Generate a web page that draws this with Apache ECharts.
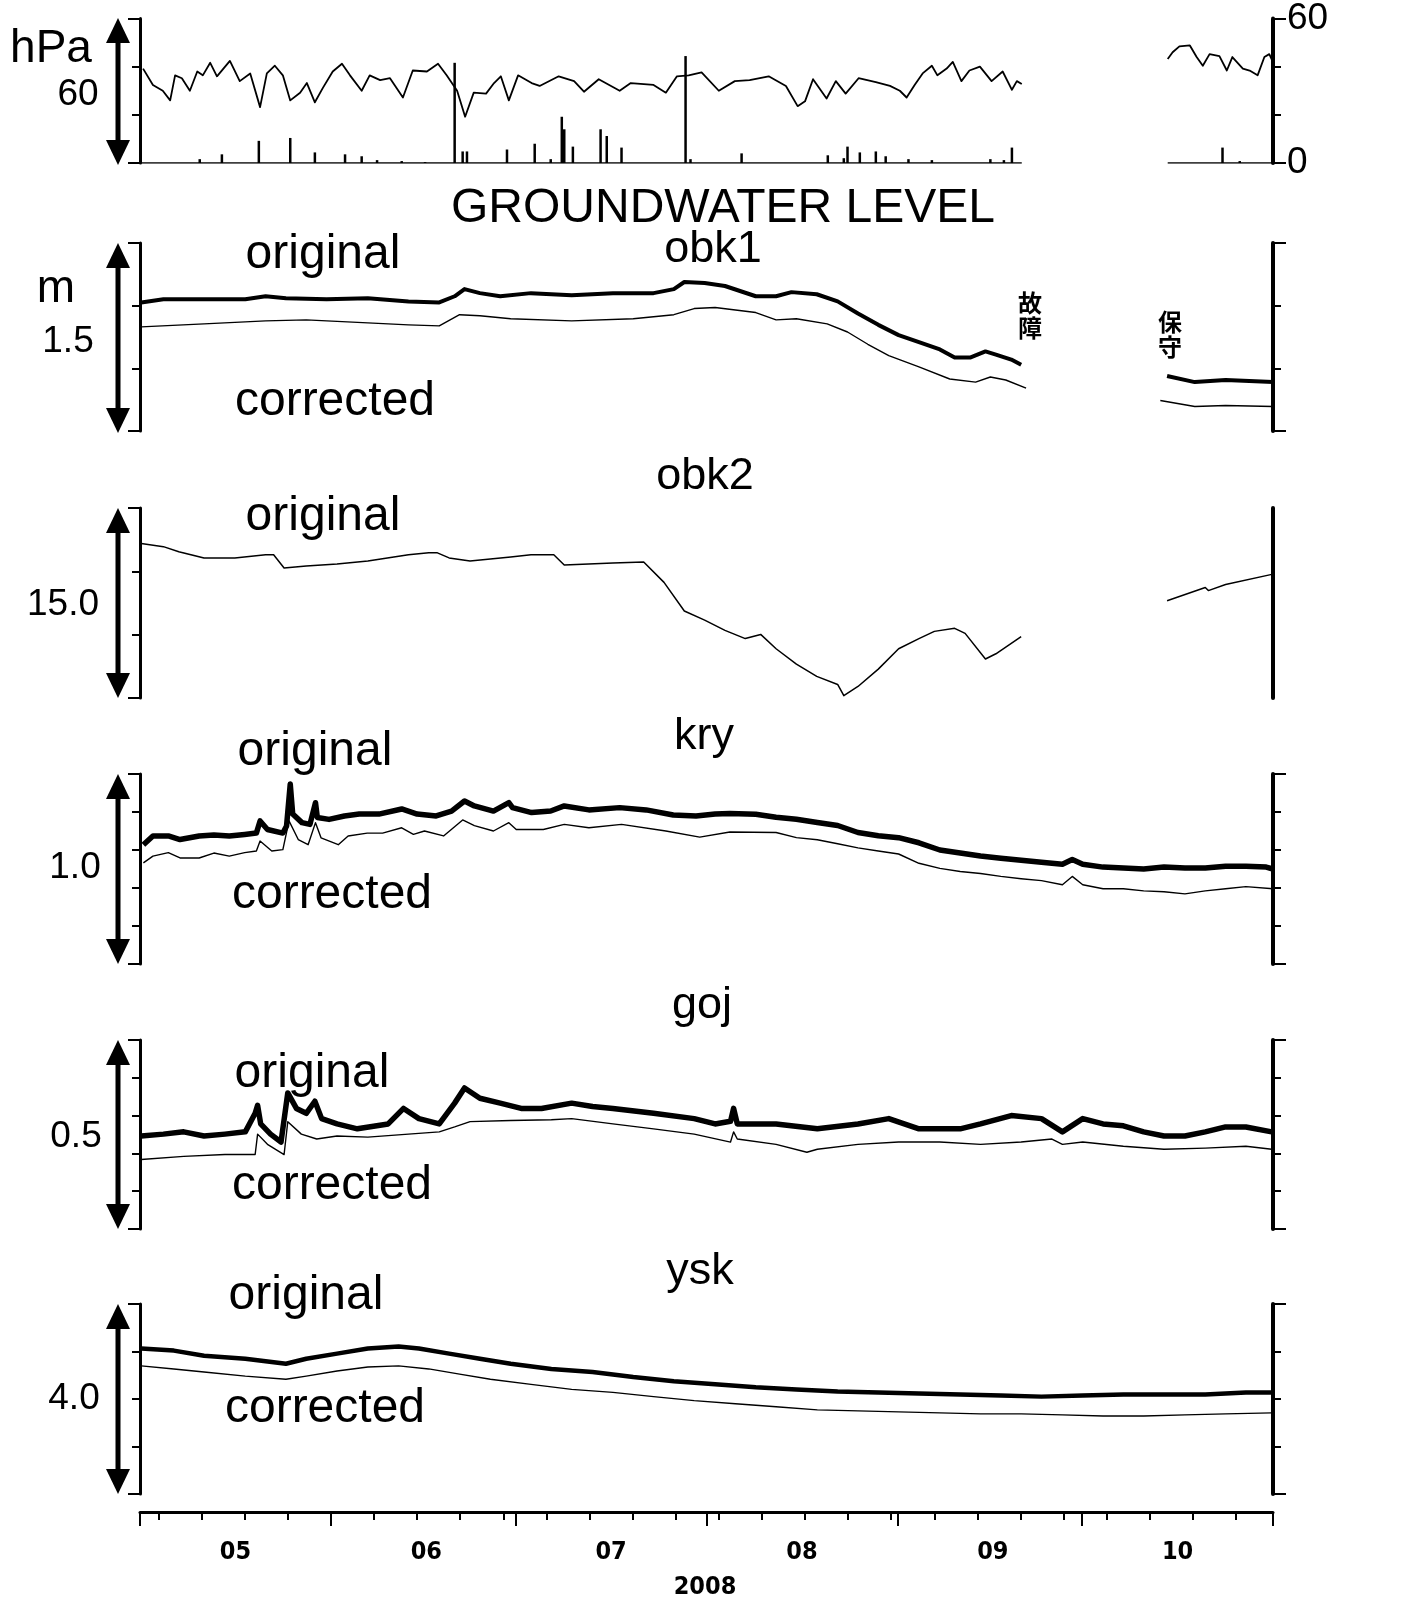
<!DOCTYPE html>
<html><head><meta charset="utf-8">
<script src="https://cdn.jsdelivr.net/npm/echarts@6/dist/echarts.min.js"></script>
<style>html,body{margin:0;padding:0;background:#fff}#c{width:1420px;height:1602px}</style>
</head><body><div id="c"></div>
<script>
// ---------- DATA (x = days since 2008-05-01) ----------
const monthLabels = ['05','06','07','08','09','10'];
const yearLabel = '2008';

// atmospheric pressure (hPa) — null marks the data gap
const pressure = [
[0.5,999.2],[2.1,992.4],[3.7,990.0],[4.9,986.0],[5.7,996.4],[6.8,995.2],[8.1,990.0],[9.3,998.0],[10.2,996.4],[11.4,1001.6],[12.5,996.0],[14.6,1002.4],[16.2,994.0],[17.9,997.2],[19.5,983.2],[20.6,997.2],[21.9,1000.4],[23.2,996.4],[24.4,986.0],[26.0,989.2],[27.1,993.2],[28.4,985.2],[29.7,991.2],[31.3,998.0],[32.8,1001.2],[34.1,996.4],[36.0,990.0],[37.3,996.4],[39.0,994.4],[40.6,995.2],[42.7,987.2],[44.3,998.4],[46.6,998.0],[48.4,1001.2],[49.8,996.4],[51.5,990.0],[52.8,979.2],[54.2,989.2],[56.2,988.8],[57.5,993.2],[58.6,996.0],[59.9,986.0],[61.4,996.4],[63.6,993.2],[64.9,992.0],[68.0,996.0],[70.5,994.0],[72.1,989.6],[74.5,994.8],[77.9,990.0],[79.7,993.2],[83.4,992.4],[85.4,989.2],[87.2,996.0],[89.1,996.4],[91.2,997.6],[94.0,990.0],[96.6,994.0],[99.0,994.4],[102.1,996.0],[104.9,992.0],[106.8,983.6],[108.0,985.6],[109.3,994.8],[111.5,986.8],[113.0,994.0],[114.6,988.8],[116.7,995.2],[119.5,993.6],[121.8,992.0],[123.4,990.0],[124.5,987.2],[125.8,992.4],[127.1,997.2],[128.6,1000.4],[129.5,996.4],[131.0,999.2],[132.0,1002.0],[133.4,994.0],[134.7,998.4],[136.4,1000.0],[138.3,994.0],[140.1,998.0],[141.6,990.4],[142.4,994.0],[143.2,992.8],
[155,null],
[166.9,1003.2],[167.7,1006.0],[168.8,1008.4],[170.5,1008.8],[171.6,1004.0],[172.6,1000.4],[173.7,1005.2],[175.3,1004.4],[176.5,998.4],[177.4,1004.0],[179.1,999.2],[180.2,998.4],[181.5,996.4],[182.6,1004.0],[183.4,1005.2],[183.9,1002.4]
];

// precipitation (mm)
const rain = [[9.7,1.6],[13.3,3.6],[19.3,9.2],[24.4,10.4],[28.4,4.4],[33.3,3.6],[36,2.8],[38.5,1.2],[42.5,0.8],[46.3,0.4],[51.1,41.6],[52.4,4.8],[53.1,4.8],[59.6,5.6],[64.1,8],[66.7,1.6],[68.5,19.2],[68.9,14],[70.3,6.8],[74.8,14],[75.8,11.2],[78.2,6.4],[88.6,44.4],[89.4,1.6],[97.7,4],[111.7,3.2],[114.3,2],[114.9,6.8],[116.9,4.4],[119.5,4.8],[121.1,2.8],[124.8,1.6],[128.6,1.2],[138.1,1.6],[140.3,1.2],[141.6,6.4],[175.8,6.4],[178.6,0.8]];

// groundwater level, relative (m)
const obk1Original = [[0.2,1.026],[3.8,1.051],[10.4,1.051],[17.1,1.051],[20.4,1.075],[23.7,1.059],[30.3,1.051],[37,1.059],[43.6,1.034],[48.6,1.026],[51.1,1.075],[52.7,1.132],[55.2,1.100],[58.5,1.075],[63.5,1.100],[70.1,1.083],[76.8,1.100],[83.4,1.100],[86.7,1.132],[88.4,1.189],[91.7,1.181],[95,1.157],[100,1.075],[103.3,1.075],[105.8,1.108],[109.9,1.091],[113.3,1.034],[116.6,0.937],[119.9,0.847],[123.2,0.765],[126.5,0.709],[129.9,0.651],[132.3,0.586],[134.8,0.586],[137.3,0.635],[139,0.610],[141.5,0.570],[143.1,0.529],[155,null],[166.8,0.439],[171.3,0.390],[176.3,0.407],[184,0.390]];
const obk1Corrected = [[0.2,0.831],[10.4,0.855],[20.4,0.879],[27,0.887],[37,0.863],[43.6,0.847],[48.6,0.839],[51.9,0.928],[55.2,0.920],[60.2,0.896],[70.1,0.879],[80.1,0.896],[86.7,0.928],[90,0.977],[93.4,0.985],[100,0.945],[103.3,0.887],[106.6,0.896],[111.6,0.855],[114.9,0.790],[118.2,0.692],[121.6,0.602],[126.5,0.512],[131.5,0.415],[135.7,0.390],[138.1,0.431],[140.6,0.407],[143.9,0.342],[155,null],[165.7,0.243],[171.3,0.195],[176.3,0.203],[184,0.195]];

const obk2Original = [[0.2,12.19],[3.8,11.95],[6.3,11.54],[10.4,11.06],[15.4,11.06],[20.4,11.31],[21.7,11.31],[23.4,10.26],[27,10.42],[32,10.58],[37,10.82],[43.6,11.31],[46.9,11.46],[48.3,11.46],[50.2,11.06],[53.6,10.82],[56.9,10.98],[60.2,11.14],[63.5,11.31],[67.2,11.31],[68.9,10.50],[76.8,10.66],[81.8,10.74],[85.1,9.13],[88.4,6.87],[91.7,6.15],[95,5.34],[98.3,4.69],[100.8,5.02],[103.3,3.89],[106.6,2.68],[109.9,1.71],[113.3,1.07],[114.3,0.18],[116.6,0.91],[119.9,2.28],[123.2,3.89],[126.5,4.69],[129,5.26],[132.3,5.50],[134,5.10],[137.3,3.08],[139,3.49],[143.1,4.85],[155,null],[166.8,7.68],[173,8.73],[173.5,8.48],[176.3,8.96],[184,9.78]];

const kryOriginal = [[0.55,0.628],[2.1,0.674],[4.6,0.674],[6.5,0.655],[9.6,0.674],[12,0.679],[14.5,0.674],[17,0.682],[18.9,0.689],[19.5,0.753],[20.7,0.708],[23.2,0.689],[23.8,0.726],[24.4,0.947],[24.8,0.789],[26.3,0.744],[27.6,0.735],[28.5,0.849],[28.8,0.771],[30.7,0.761],[33.2,0.779],[35.6,0.789],[38.8,0.789],[42.5,0.816],[45,0.789],[48.1,0.779],[50.6,0.805],[52.7,0.858],[54.3,0.832],[57.4,0.805],[59.9,0.849],[60.5,0.823],[63.6,0.797],[66.7,0.805],[68.9,0.832],[72.9,0.811],[77.9,0.823],[82.2,0.811],[86.6,0.784],[90.3,0.779],[93.4,0.789],[95.8,0.792],[100,0.788],[103.3,0.772],[106.6,0.762],[110,0.745],[113.3,0.729],[116.6,0.692],[119.9,0.675],[123.2,0.665],[126.5,0.638],[129.9,0.600],[133.2,0.584],[136.5,0.568],[139.8,0.557],[143.1,0.546],[146.4,0.535],[149.8,0.525],[151.4,0.550],[153.1,0.525],[156.4,0.510],[159.7,0.505],[163,0.500],[166.3,0.510],[169.7,0.505],[173,0.505],[176.3,0.515],[179.6,0.515],[182.9,0.510],[184,0.500]];
const kryCorrected = [[0.55,0.532],[2.1,0.568],[4.6,0.586],[6.5,0.558],[9.6,0.558],[12,0.584],[14.5,0.568],[17,0.586],[18.9,0.595],[19.5,0.647],[21.4,0.595],[23.2,0.602],[24.2,0.753],[25.7,0.655],[27.3,0.628],[28.5,0.744],[29.4,0.664],[32.2,0.628],[33.8,0.674],[36.9,0.689],[39.4,0.689],[42.5,0.717],[44.4,0.682],[46.2,0.700],[49.3,0.674],[52.4,0.758],[54.3,0.728],[57.4,0.700],[59.9,0.744],[61.1,0.708],[65.5,0.708],[68.9,0.735],[72.9,0.717],[78.2,0.735],[85.4,0.700],[90.9,0.668],[95.8,0.695],[103.3,0.692],[106.6,0.665],[110,0.654],[113.3,0.633],[116.6,0.611],[119.9,0.595],[123.2,0.579],[126.5,0.530],[129.9,0.503],[133.2,0.487],[136.5,0.476],[139.8,0.461],[143.1,0.449],[146.4,0.439],[149.8,0.417],[151.4,0.461],[153.1,0.417],[156.4,0.396],[159.7,0.396],[163,0.385],[166.3,0.380],[169.7,0.369],[173,0.385],[176.3,0.396],[179.6,0.407],[184,0.396]];

const gojOriginal = [[0.2,0.246],[3.8,0.251],[7.1,0.257],[10.4,0.246],[13.8,0.251],[17.1,0.257],[18.7,0.306],[19.1,0.327],[19.6,0.278],[21.2,0.251],[22.9,0.230],[24,0.360],[25.4,0.319],[27,0.306],[28.4,0.338],[29.5,0.292],[32,0.278],[35.3,0.265],[40.3,0.278],[42.8,0.319],[45.3,0.292],[48.6,0.278],[51.1,0.333],[52.7,0.373],[55.2,0.346],[58.5,0.333],[61.9,0.319],[65.2,0.319],[70.1,0.333],[73.5,0.324],[76.8,0.319],[83.4,0.306],[90,0.292],[93.4,0.278],[95.9,0.285],[96.4,0.319],[97,0.278],[103.3,0.278],[110,0.265],[116.6,0.278],[121.6,0.292],[126.5,0.265],[133.2,0.265],[136.5,0.278],[141.5,0.300],[146.4,0.292],[149.8,0.257],[153.1,0.292],[156.4,0.278],[159.7,0.273],[163,0.257],[166.3,0.246],[169.7,0.246],[173,0.257],[176.3,0.270],[179.6,0.270],[183.8,0.257]];
const gojCorrected = [[0.2,0.184],[7.1,0.192],[13.8,0.197],[18.7,0.197],[19.1,0.251],[20.7,0.224],[23.4,0.197],[24,0.284],[26.2,0.251],[28.7,0.238],[32,0.246],[37,0.243],[43.6,0.251],[48.6,0.257],[51.1,0.270],[53.6,0.284],[60.2,0.287],[66.8,0.289],[70.1,0.292],[76.8,0.278],[83.4,0.265],[90,0.251],[95.9,0.230],[96.4,0.257],[97,0.238],[103.3,0.224],[108.3,0.203],[110,0.211],[116.6,0.224],[123.2,0.230],[129.9,0.230],[136.5,0.224],[143.1,0.230],[148.1,0.238],[149.8,0.224],[153.1,0.230],[159.7,0.219],[166.3,0.211],[173,0.214],[179.6,0.219],[183.8,0.211]];

const yskOriginal = [[0.2,3.063],[5.5,3.019],[10.4,2.911],[17.1,2.848],[23.7,2.741],[27,2.848],[32,2.955],[37,3.063],[42,3.105],[45.3,3.063],[50.2,2.955],[55.2,2.848],[60.2,2.741],[66.8,2.633],[73.5,2.568],[80.1,2.461],[86.7,2.374],[93.4,2.309],[100,2.246],[106.6,2.202],[113.3,2.160],[119.9,2.139],[126.5,2.116],[133.2,2.094],[139.8,2.073],[146.4,2.050],[153.1,2.073],[159.7,2.094],[166.3,2.094],[173,2.094],[179.6,2.139],[183.8,2.139]];
const yskCorrected = [[0.2,2.697],[5.5,2.633],[10.4,2.568],[17.1,2.482],[23.7,2.417],[27,2.482],[32,2.589],[37,2.675],[42,2.697],[46.9,2.633],[51.9,2.524],[56.9,2.417],[63.5,2.309],[70.1,2.202],[76.8,2.139],[83.4,2.050],[90,1.966],[96.7,1.901],[103.3,1.836],[110,1.772],[116.6,1.751],[123.2,1.728],[129.9,1.707],[136.5,1.686],[143.1,1.686],[149.8,1.665],[156.4,1.642],[163,1.642],[169.7,1.665],[176.3,1.686],[183.8,1.707]];

// ---------- LAYOUT ----------
const L = 140, R = 147;
const panels = [
  {top:15,  h:148, min:960, max:1020, step:20,  rmin:0, rmax:60, rstep:20, rTicks:true},
  {top:243, h:188, min:0, max:1.5, step:0.5, rTicks:true},
  {top:508, h:190, min:0, max:15,  step:5,   rTicks:false},
  {top:774, h:190, min:0, max:1.0, step:0.2, rTicks:true},
  {top:1040,h:189, min:0, max:0.5, step:0.1, rTicks:true},
  {top:1304,h:190, min:0, max:4,   step:1,   rTicks:true}
];
const NDAYS = 184;

const chart = echarts.init(document.getElementById('c'), null, {renderer:'canvas'});
const BLACK = '#000';
const grid = panels.map(p => ({left:L, right:R, top:p.top, height:p.h}));
grid.push({left:L, right:R, top:1500, height:12});

const xAxis = panels.map((p,i) => ({gridIndex:i, type:'value', min:0, max:NDAYS, show:false}));

// category days for the time axis
const dayCats = [], weekDay = [];
const t0 = Date.UTC(2008,4,1);
for (let i=0;i<NDAYS;i++){
  const d = new Date(t0 + i*86400000);
  const mm = String(d.getUTCMonth()+1).padStart(2,'0');
  const dd = String(d.getUTCDate()).padStart(2,'0');
  dayCats.push(mm+'-'+dd); weekDay.push(d.getUTCDay());
}
const narrow = "'Liberation Sans Narrow','DejaVu Sans Condensed','Liberation Sans',sans-serif";
xAxis.push({
  gridIndex:6, type:'category', data:dayCats, boundaryGap:true, position:'bottom',
  axisLine:{show:true, lineStyle:{color:BLACK, width:3}},
  axisTick:{show:true, interval:(idx,val)=>val.slice(3)==='01', length:14, lineStyle:{color:BLACK,width:2}},
  axisLabel:{show:true, interval:(idx,val)=>val.slice(3)==='16',
    formatter:(val)=>monthLabels[parseInt(val.slice(0,2),10)-5],
    margin:28, fontSize:25, fontWeight:'bold', fontFamily:narrow, color:BLACK},
  splitLine:{show:false}
});
xAxis.push({
  gridIndex:6, type:'category', data:dayCats, boundaryGap:true, position:'bottom',
  axisLine:{show:false},
  axisTick:{show:true, interval:(idx)=>weekDay[idx]===0, length:8, lineStyle:{color:BLACK,width:2}},
  axisLabel:{show:false}, splitLine:{show:false}
});

const yAxis = [];
panels.forEach((p,i) => {
  const rmin = p.rmin!=null?p.rmin:p.min, rmax = p.rmax!=null?p.rmax:p.max, rstep = p.rstep||p.step;
  yAxis.push({gridIndex:i, type:'value', position:'left', min:p.min, max:p.max, interval:p.step,
    axisLine:{show:true, lineStyle:{color:BLACK,width:3}},
    axisTick:{show:true, length:8, lineStyle:{color:BLACK,width:2}},
    axisLabel:{show:false}, splitLine:{show:false}});
  yAxis.push({gridIndex:i, type:'value', position:'left', min:p.min, max:p.max, interval:p.max-p.min,
    axisLine:{show:false}, axisTick:{show:true, length:12, lineStyle:{color:BLACK,width:2}},
    axisLabel:{show:false}, splitLine:{show:false}});
  yAxis.push({gridIndex:i, type:'value', position:'right', min:rmin, max:rmax, interval:rstep,
    axisLine:{show:true, lineStyle:{color:BLACK,width:4}},
    axisTick:{show:p.rTicks, length:8, lineStyle:{color:BLACK,width:2}},
    axisLabel:{show:false}, splitLine:{show:false}});
  yAxis.push({gridIndex:i, type:'value', position:'right', min:rmin, max:rmax, interval:rmax-rmin,
    axisLine:{show:false}, axisTick:{show:p.rTicks, length:13, lineStyle:{color:BLACK,width:2}},
    axisLabel:{show:i===0, margin:14, fontSize:37, fontFamily:'Liberation Sans', color:BLACK},
    splitLine:{show:false}});
});
yAxis.push({gridIndex:6, type:'value', show:false});

// rain baseline from pressure record segments
const segs = []; let cur = null;
pressure.forEach(pt => {
  if (pt[1]==null) { if (cur) { segs.push(cur); cur=null; } }
  else { if (!cur) cur=[pt[0],pt[0]]; cur[1]=pt[0]; }
});
if (cur) segs.push(cur);
const baseline = [];
segs.forEach((s,k) => { baseline.push([k===0?0:s[0],0],[s[1],0],[s[1]+1,null]); });

function line(data, gi, w){
  return {type:'line', xAxisIndex:gi, yAxisIndex:gi*4, data:data, showSymbol:false, symbol:'none',
    connectNulls:false, lineStyle:{color:BLACK, width:w, join:'round'}, itemStyle:{color:BLACK}, z:3, silent:true};
}
const series = [
  line(pressure,0,1.8),
  {type:'bar', xAxisIndex:0, yAxisIndex:2, data:rain, barWidth:2.5, itemStyle:{color:BLACK}, silent:true},
  {type:'line', xAxisIndex:0, yAxisIndex:2, data:baseline, showSymbol:false, symbol:'none', connectNulls:false,
    lineStyle:{color:BLACK,width:1.5}, silent:true},
  line(obk1Original,1,4), line(obk1Corrected,1,1.4),
  line(obk2Original,2,1.5),
  line(kryOriginal,3,5.5), line(kryCorrected,3,1.4),
  line(gojOriginal,4,5.5), line(gojCorrected,4,1.4),
  line(yskOriginal,5,4.5), line(yskCorrected,5,1.4)
];

// ---------- annotations ----------
const F = 'Liberation Sans';
function txt(x,y,s,size,extra){
  return {type:'text', x:x, y:y, style:{text:s, font:(extra&&extra.weight?extra.weight+' ':'')+size+'px '+(extra&&extra.family?extra.family:F),
    fill:BLACK, align:'center', verticalAlign:'middle'}};
}
function arrow(x,y1,y2){
  const hw=12, hh=25;
  return [
    {type:'line', shape:{x1:x,y1:y1+hh-2,x2:x,y2:y2-hh+2}, style:{stroke:BLACK,lineWidth:5}},
    {type:'polygon', shape:{points:[[x,y1],[x-hw,y1+hh],[x+hw,y1+hh]]}, style:{fill:BLACK}},
    {type:'polygon', shape:{points:[[x,y2],[x-hw,y2-hh],[x+hw,y2-hh]]}, style:{fill:BLACK}}
  ];
}
const cjk = 'bold 24px "Noto Sans CJK JP"';
const graphic = [
  txt(51,49,'hPa',46), txt(78,95,'60',37),
  txt(723,209,'GROUNDWATER LEVEL',48),
  txt(713,250,'obk1',45), txt(323,255,'original',48), txt(56,289,'m',46), txt(68,342,'1.5',37), txt(335,402,'corrected',48),
  {type:'text', x:1030, y:290, style:{text:'故\n障', font:cjk, lineHeight:25, fill:BLACK, align:'center', verticalAlign:'top'}},
  {type:'text', x:1170, y:309, style:{text:'保\n守', font:cjk, lineHeight:25, fill:BLACK, align:'center', verticalAlign:'top'}},
  txt(705,477,'obk2',45), txt(323,517,'original',48), txt(63,605,'15.0',37),
  txt(704,737,'kry',45), txt(315,752,'original',48), txt(75,868,'1.0',37), txt(332,895,'corrected',48),
  txt(702,1006,'goj',45), txt(312,1074,'original',48), txt(76,1137,'0.5',37), txt(332,1186,'corrected',48),
  txt(700,1272,'ysk',45), txt(306,1296,'original',48), txt(74,1399,'4.0',37), txt(325,1409,'corrected',48),
  txt(705,1587,yearLabel,25,{weight:'bold',family:narrow})
];
[[18,165],[243,433],[508,698],[774,964],[1040,1229],[1304,1494]].forEach(a => graphic.push(...arrow(118,a[0],a[1])));

chart.setOption({animation:false, backgroundColor:'#fff', grid, xAxis, yAxis, series, graphic});
</script></body></html>
